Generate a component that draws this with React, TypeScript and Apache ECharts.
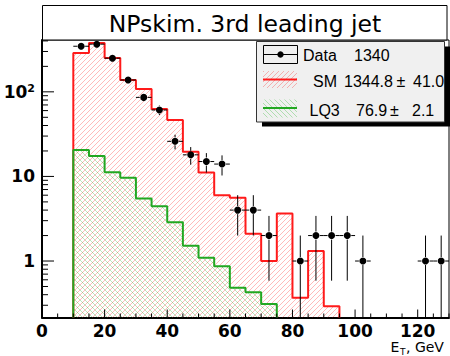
import React, { useEffect, useRef } from 'react';
import * as echarts from 'echarts';

// ---- chart data ----
const titleText = 'NPskim. 3rd leading jet';
const binLow = 10;
const binWidth = 5;
const smValues = [288, 378, 251, 138, 108, 62.6, 46.4, 19.6, 11.1, 6.0, 5.6, 2.1, 1.0, 3.65, 0.367, 1.31, 0.292];
const lq3Values = [20.5, 17.4, 11.2, 9.65, 5.5, 4.45, 2.88, 1.52, 1.09, 0.867, 0.482, 0.428, 0.311];
const dataCenters = [12.5, 17.5, 22.5, 27.5, 32.5, 37.5, 42.5, 47.5, 52.5, 57.5, 62.5, 67.5, 72.5, 82.5, 87.5, 92.5, 97.5, 102.5, 122.5, 127.5];
const dataCounts = [346, 366, 250, 138, 86, 61, 26, 18, 15, 14, 4, 4, 2, 1, 2, 2, 2, 1, 1, 1];
const xMin = 0;
const xMax = 130;
const xLabelStep = 20;
const xMinorStep = 5;
const yMin = 0.215;
const yMax = 410;
const legendDataRow = ['Data', '1340'];
const legendSMRow = ['SM', '1344.8', '\u00b1', '41.0'];
const legendLQ3Row = ['LQ3', '76.9', '\u00b1', '2.1'];
const xAxisTitle = ['E', 'T', ', GeV'];

const RED = '#ff1a1a';
const GREEN = '#22a822';
const AXIS_FONT = 'DejaVu Sans';
const LEG_FONT = 'Liberation Sans';

function hatch(color: string, dir: string) {
  const s = 5;
  const c = document.createElement('canvas');
  c.width = s;
  c.height = s;
  const ctx = c.getContext('2d') as CanvasRenderingContext2D;
  ctx.strokeStyle = color;
  ctx.lineWidth = 1;
  ctx.beginPath();
  for (let k = -1; k <= 1; k++) {
    if (dir === '/') {
      ctx.moveTo(k * s, s);
      ctx.lineTo(k * s + s, 0);
    } else {
      ctx.moveTo(k * s, 0);
      ctx.lineTo(k * s + s, s);
    }
  }
  ctx.stroke();
  return { image: c, repeat: 'repeat', imageWidth: s, imageHeight: s } as any;
}

function stepPoints(values: number[]) {
  const pts: number[][] = [[binLow, yMin]];
  values.forEach((v, i) => pts.push([binLow + i * binWidth, v]));
  const end = binLow + values.length * binWidth;
  pts.push([end, values[values.length - 1]]);
  pts.push([end, yMin]);
  return pts;
}

export default function App() {
  const ref = useRef<HTMLDivElement>(null);
  useEffect(() => {
    document.body.style.margin = '0';
    if (!ref.current) return;
    const chart = echarts.init(ref.current, undefined, { renderer: 'svg' });
    const redHatch = hatch('rgba(255,0,0,0.27)', '/');
    const greenHatch = hatch('rgba(0,170,0,0.27)', '\\');

    const yTicks: number[][] = [];
    for (let k = -1; k <= 2; k++) {
      for (let m = 1; m <= 9; m++) {
        const v = m * Math.pow(10, k);
        if (v >= yMin && v <= yMax) yTicks.push([xMin, v, m === 1 ? 1 : 0]);
      }
    }
    const xTicks: number[][] = [];
    for (let x = xMin; x <= xMax; x += xMinorStep) {
      xTicks.push([x, yMin, x % xLabelStep === 0 ? 1 : 0]);
    }

    const labelStyle = { fontFamily: AXIS_FONT, fontSize: 17, fontWeight: 'bold', color: '#000' };

    const legendText = (t: string, x: number, y: number) => ({
      type: 'text', x, y, z: 110,
      style: { text: t, fill: '#000', fontFamily: LEG_FONT, fontSize: 16, align: 'left', verticalAlign: 'middle' },
    });

    const graphics: any[] = [
      { type: 'rect', z: 100, shape: { x: 42.5, y: 5.5, width: 404.5, height: 34.5 }, style: { fill: '#fff', stroke: '#000', lineWidth: 1 } },
      { type: 'text', z: 110, x: 245, y: 23.5, style: { text: titleText, fill: '#000', fontFamily: AXIS_FONT, fontSize: 23.5, align: 'center', verticalAlign: 'middle' } },
      // legend
      { type: 'rect', z: 100, shape: { x: 262, y: 46.5, width: 188, height: 80 }, style: { fill: '#000' } },
      { type: 'rect', z: 101, shape: { x: 256.5, y: 41.5, width: 188, height: 80.5 }, style: { fill: '#f0f0f0', stroke: '#333', lineWidth: 1 } },
      { type: 'rect', z: 105, shape: { x: 263.5, y: 45.5, width: 34, height: 18 }, style: { fill: 'none', stroke: '#000', lineWidth: 1 } },
      { type: 'line', z: 105, shape: { x1: 263.5, y1: 54.5, x2: 297.5, y2: 54.5 }, style: { stroke: '#000', lineWidth: 1 } },
      { type: 'circle', z: 106, shape: { cx: 280.5, cy: 54.5, r: 3.2 }, style: { fill: '#000' } },
      legendText(legendDataRow[0], 303, 55),
      legendText(legendDataRow[1], 354, 55),
      { type: 'rect', z: 105, shape: { x: 263, y: 71, width: 34, height: 17 }, style: { fill: redHatch } },
      { type: 'line', z: 106, shape: { x1: 263, y1: 79.5, x2: 297, y2: 79.5 }, style: { stroke: RED, lineWidth: 2 } },
      legendText(legendSMRow[0], 313, 81.5),
      legendText(legendSMRow[1], 344, 81.5),
      legendText(legendSMRow[2], 396.5, 81.5),
      legendText(legendSMRow[3], 413, 81.5),
      { type: 'rect', z: 105, shape: { x: 263, y: 99.5, width: 34, height: 18 }, style: { fill: greenHatch } },
      { type: 'line', z: 106, shape: { x1: 263, y1: 108, x2: 297, y2: 108 }, style: { stroke: GREEN, lineWidth: 2 } },
      legendText(legendLQ3Row[0], 309.5, 110),
      legendText(legendLQ3Row[1], 356, 110),
      legendText(legendLQ3Row[2], 390, 110),
      legendText(legendLQ3Row[3], 412, 110),
      // x axis title
      { type: 'text', z: 110, x: 390.5, y: 347, style: { text: xAxisTitle[0], fill: '#000', fontFamily: AXIS_FONT, fontSize: 14, lineHeight: 12, align: 'left', verticalAlign: 'middle' } },
      { type: 'text', z: 110, x: 400, y: 351.5, style: { text: xAxisTitle[1], fill: '#000', fontFamily: AXIS_FONT, fontSize: 9, lineHeight: 8, align: 'left', verticalAlign: 'middle' } },
      { type: 'text', z: 110, x: 406, y: 347, style: { text: xAxisTitle[2], fill: '#000', fontFamily: AXIS_FONT, fontSize: 14, lineHeight: 12, align: 'left', verticalAlign: 'middle' } },
    ];

    const option: any = {
      animation: false,
      backgroundColor: '#fff',
      grid: { left: 42, top: 40, width: 407, height: 277.5, show: true, borderColor: '#000', borderWidth: 1, backgroundColor: 'transparent' },
      xAxis: {
        type: 'value', min: xMin, max: xMax, interval: xLabelStep,
        axisLine: { show: true, lineStyle: { color: '#000', width: 2 } },
        axisTick: { show: false },
        splitLine: { show: false },
        axisLabel: { ...labelStyle, lineHeight: 13, margin: 6.5, showMaxLabel: false },
      },
      yAxis: {
        type: 'log', logBase: 10, min: yMin, max: yMax,
        axisLine: { show: true, lineStyle: { color: '#000', width: 2 } },
        axisTick: { show: false },
        splitLine: { show: false },
        axisLabel: {
          margin: 7,
          showMinLabel: false,
          showMaxLabel: false,
          formatter: (v: number) => {
            const e = Math.log10(v);
            const r = Math.round(e);
            if (Math.abs(e - r) > 1e-6) return '';
            if (r === 0) return '{b|1}';
            if (r === 1) return '{b|10}';
            return '{b|10}{s|' + r + '}';
          },
          rich: {
            b: { ...labelStyle },
            s: { fontFamily: AXIS_FONT, fontSize: 11, fontWeight: 'bold', color: '#000', verticalAlign: 'top' },
          },
        },
      },
      series: [
        {
          type: 'line', name: 'SM', data: stepPoints(smValues), step: 'end', symbol: 'none', showSymbol: false,
          lineStyle: { color: RED, width: 2 }, itemStyle: { color: RED },
          areaStyle: { color: redHatch, opacity: 1, origin: 'start' }, z: 2, silent: true,
        },
        {
          type: 'line', name: 'LQ3', data: stepPoints(lq3Values), step: 'end', symbol: 'none', showSymbol: false,
          lineStyle: { color: GREEN, width: 2 }, itemStyle: { color: GREEN },
          areaStyle: { color: greenHatch, opacity: 1, origin: 'start' }, z: 3, silent: true,
        },
        {
          type: 'custom', name: 'DataErr', z: 4, silent: true,
          data: dataCenters.map((x, i) => [x, dataCounts[i]]),
          renderItem: (params: any, api: any) => {
            const x = api.value(0);
            const n = api.value(1);
            const c = api.coord([x, n]);
            const err = Math.sqrt(n);
            const pHi = api.coord([x, n + err]);
            const pLo = api.coord([x, Math.max(n - err, yMin)]);
            const pL = api.coord([x - binWidth / 2, n]);
            const pR = api.coord([x + binWidth / 2, n]);
            const gap = 4;
            const st = { stroke: '#000', lineWidth: 1 };
            const ch: any[] = [];
            if (c[1] - pHi[1] > gap) ch.push({ type: 'line', shape: { x1: c[0], y1: c[1] - gap, x2: c[0], y2: pHi[1] }, style: st });
            if (pLo[1] - c[1] > gap) ch.push({ type: 'line', shape: { x1: c[0], y1: c[1] + gap, x2: c[0], y2: pLo[1] }, style: st });
            ch.push({ type: 'line', shape: { x1: pL[0], y1: c[1], x2: c[0] - gap, y2: c[1] }, style: st });
            ch.push({ type: 'line', shape: { x1: c[0] + gap, y1: c[1], x2: pR[0], y2: c[1] }, style: st });
            return { type: 'group', children: ch };
          },
        },
        {
          type: 'scatter', name: 'Data', z: 5, silent: true,
          data: dataCenters.map((x, i) => [x, dataCounts[i]]),
          symbol: 'circle', symbolSize: 7, itemStyle: { color: '#000', opacity: 1 },
        },
        {
          type: 'custom', name: 'yTicks', z: 6, silent: true, data: yTicks,
          renderItem: (params: any, api: any) => {
            const p = api.coord([api.value(0), api.value(1)]);
            const len = api.value(2) ? 12 : 6;
            return { type: 'line', shape: { x1: p[0], y1: p[1], x2: p[0] + len, y2: p[1] }, style: { stroke: '#000', lineWidth: 1 } };
          },
        },
        {
          type: 'custom', name: 'xTicks', z: 6, silent: true, data: xTicks,
          renderItem: (params: any, api: any) => {
            const p = api.coord([api.value(0), api.value(1)]);
            const len = api.value(2) ? 8 : 4;
            return { type: 'line', shape: { x1: p[0], y1: p[1], x2: p[0], y2: p[1] - len }, style: { stroke: '#000', lineWidth: 1 } };
          },
        },
      ],
      graphic: { elements: graphics },
    };
    chart.setOption(option);
    return () => chart.dispose();
  }, []);
  return <div ref={ref} style={{ position: 'fixed', left: 0, top: 0, width: 450, height: 356 }} />;
}
